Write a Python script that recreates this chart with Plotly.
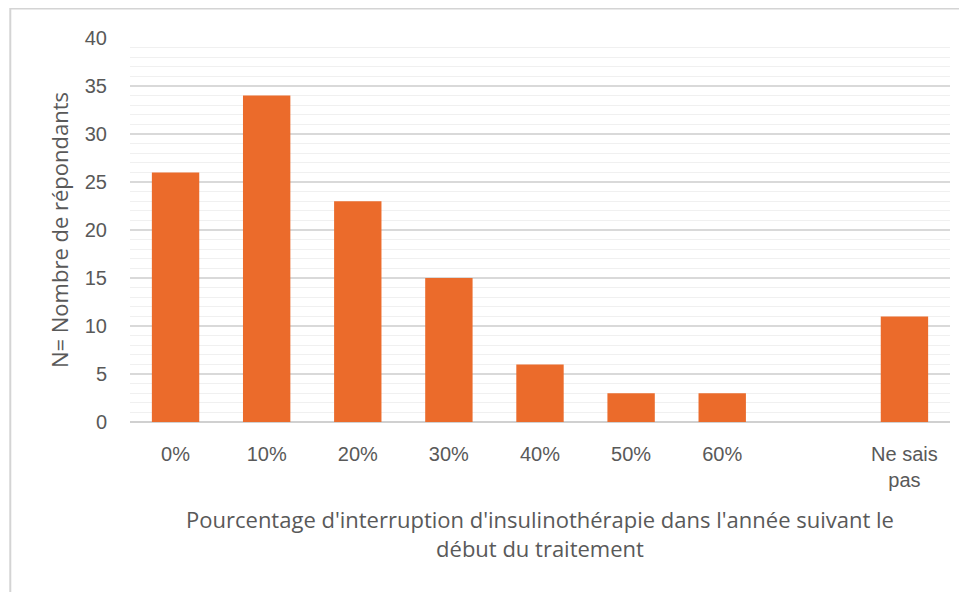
import plotly.graph_objects as go

categories = ["0%", "10%", "20%", "30%", "40%", "50%", "60%", " ", "Ne sais<br>pas"]
respondents = [26, 34, 23, 15, 6, 3, 3, None, 11]

x_title = "Pourcentage d'interruption d'insulinothérapie dans l'année suivant le<br>début du traitement"
y_title = "N= Nombre de répondants"

fig = go.Figure()
fig.add_trace(go.Bar(
    x=categories, y=respondents,
    marker=dict(color="#EB6B2B", line=dict(width=0)),
    width=0.52,
))

fig.update_layout(
    width=967, height=592,
    plot_bgcolor="white", paper_bgcolor="white",
    margin=dict(l=122, r=25, t=30, b=178),
    showlegend=False,
    font=dict(family="Liberation Sans, Arial", color="#595959", size=20),
)

fig.update_xaxes(
    type="category",
    showgrid=False, showline=False, ticks="",
    tickfont=dict(size=20),
    ticklabelstandoff=18,
    title=dict(text=x_title, standoff=22,
               font=dict(family="Open Sans", size=22, color="#595959")),
)
fig.update_yaxes(
    range=[0, 40], dtick=5,
    showgrid=True, gridcolor="#D9D9D9", gridwidth=1.5,
    zeroline=True, zerolinecolor="#D0D0D0", zerolinewidth=1.5,
    minor=dict(dtick=1, showgrid=True, gridcolor="#F0F0F0", gridwidth=1),
    ticklabelstandoff=22,
    tickfont=dict(size=20),
    title=dict(text=y_title, standoff=10,
               font=dict(family="Open Sans", size=22, color="#595959")),
)

# light frame around the chart area
fig.add_shape(type="rect", xref="paper", yref="paper",
              x0=-0.146, x1=1.05, y0=-0.6, y1=1.077,
              line=dict(color="#D4D4D4", width=2), fillcolor="rgba(0,0,0,0)",
              layer="below")

fig.write_html("out.html")
